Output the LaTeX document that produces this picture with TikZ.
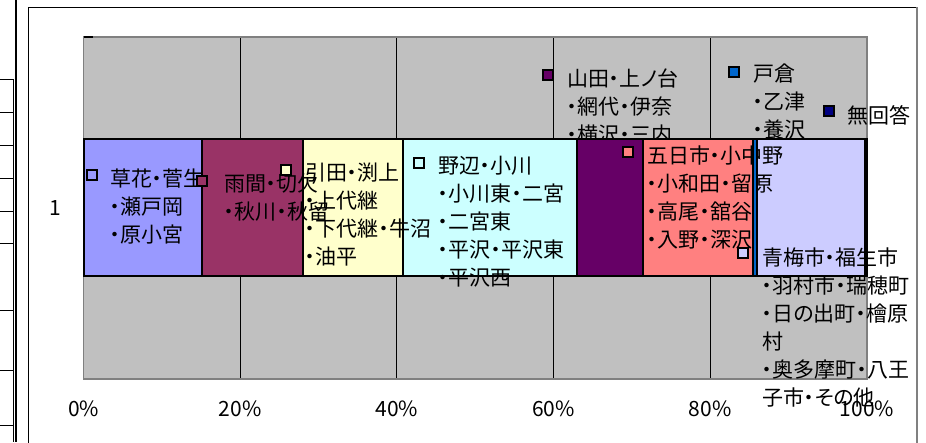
\documentclass[tikz,border=0pt]{standalone}
\usepackage{fontspec}
\setmainfont{Noto Sans CJK JP}[RawFeature=+palt]
\usepackage{tikz}
\definecolor{plotgray}{HTML}{C0C0C0}
\definecolor{plotedge}{HTML}{808080}
\definecolor{sA}{HTML}{9999FF}
\definecolor{sB}{HTML}{993366}
\definecolor{sC}{HTML}{FFFFCC}
\definecolor{sD}{HTML}{CCFFFF}
\definecolor{sE}{HTML}{660066}
\definecolor{sF}{HTML}{FF8080}
\definecolor{sG}{HTML}{0066CC}
\definecolor{sH}{HTML}{CCCCFF}
\definecolor{sI}{HTML}{000080}

\begin{document}
\begin{tikzpicture}[x=1pt, y=-1pt,
    segedge/.style={draw=black, line width=2pt},
    key/.style={draw=black, line width=2pt, minimum size=9.5pt, inner sep=0pt, fill=#1},
    lab/.style={anchor=base west, align=left, inner sep=0pt, font=\fontsize{21}{28}\selectfont},
    tick/.style={inner sep=0pt, font=\fontsize{21}{24}\selectfont}]
  \useasboundingbox (0,0) rectangle (926,442);
  % sheet cells on the left
  \draw[line width=2pt] (16,0) -- (16,442);
  \draw[line width=1pt] (13,79) -- (13,442);
  \foreach \r in {79,112,145,178,211,243,310,370,425}
    \draw[line width=1pt] (0,\r) -- (13,\r);
  % chart area
  \draw[line width=1pt] (28,450) -- (28,7) -- (917,7);
  \draw[plotedge, line width=1.2pt] (917,7) -- (917,450);
  % plot area and grid
  \fill[plotgray] (83.5,37) rectangle (867,379);
  \foreach \x in {240.2,396.9,553.6,710.3}
    \draw[line width=1pt] (\x,37) -- (\x,379);
  \draw[plotedge, line width=1.5pt] (83.5,37) rectangle (867,379);
  \draw[line width=1.5pt] (83.5,37) -- (93,37);
  % this label sits under the bar (labels are placed by their last line)
  \node[lab] (labE) at (567,142) {山田・上ノ台\\・網代・伊奈\\・横沢・三内};
  % bar
  \fill[sA] (83.5,139) rectangle (202,276);
  \fill[sB] (202,139) rectangle (302.7,276);
  \fill[sC] (302.7,139) rectangle (402.7,276);
  \fill[sD] (402.7,139) rectangle (576.7,276);
  \fill[sE] (576.7,139) rectangle (643,276);
  \fill[sF] (643,139) rectangle (752.7,276);
  \fill[sH] (756.7,139) rectangle (865,276);
  \fill[sI] (865,139) rectangle (867,276);
  % data labels
  \node[lab] (labA) at (110,242) {草花・菅生\\・瀬戸岡\\・原小宮};
  \node[lab] (labB) at (224,219) {雨間・切欠\\・秋川・秋留};
  \node[lab] (labC) at (305,264) {引田・渕上\\・上代継\\・下代継・牛沼\\・油平};
  \node[lab] (labD) at (438,285) {野辺・小川\\・小川東・二宮\\・二宮東\\・平沢・平沢東\\・平沢西};
  \node[lab] (labF) at (647,247) {五日市・小中野\\・小和田・留原\\・高尾・舘谷\\・入野・深沢};
  \node[lab] (labG) at (753,137) {戸倉\\・乙津\\・養沢};
  \node[lab] (labH) at (762,405) {青梅市・福生市\\・羽村市・瑞穂町\\・日の出町・檜原\\村\\・奥多摩町・八王\\子市・その他};
  \node[lab] (labI) at (847,123) {無回答};
  \fill[sG] (752.7,139) rectangle (756.7,276);
  % segment edges
  \draw[segedge] (83.5,139) rectangle (202,276);
  \draw[segedge] (202,139) rectangle (302.7,276);
  \draw[segedge] (302.7,139) rectangle (402.7,276);
  \draw[segedge] (402.7,139) rectangle (576.7,276);
  \draw[segedge] (576.7,139) rectangle (643,276);
  \draw[segedge] (643,139) rectangle (752.7,276);
  \draw[segedge] (752.7,139) rectangle (756.7,276);
  \draw[segedge] (756.7,139) rectangle (865,276);
  \draw[segedge] (865,139) rectangle (867,276);
  % legend keys of the labels
  \node[key=sA] (keyA) at (92,175) {};
  \node[key=sB] (keyB) at (202,181) {};
  \node[key=sC] (keyC) at (286,170) {};
  \node[key=sD] (keyD) at (419,163) {};
  \node[key=sE] (keyE) at (548,75) {};
  \node[key=sF] (keyF) at (628,152) {};
  \node[key=sG] (keyG) at (734,72) {};
  \node[key=sH] (keyH) at (743,253) {};
  \node[key=sI] (keyI) at (829,111) {};
  % axes
  \node[tick] (cat) at (55,208) {1};
  \node[tick] (t0) at (83.5,409) {0\%};
  \node[tick] (t20) at (240.2,409) {20\%};
  \node[tick] (t40) at (396.9,409) {40\%};
  \node[tick] (t60) at (553.6,409) {60\%};
  \node[tick] (t80) at (710.3,409) {80\%};
  \node[tick] (t100) at (867,409) {100\%};
\end{tikzpicture}
\end{document}
